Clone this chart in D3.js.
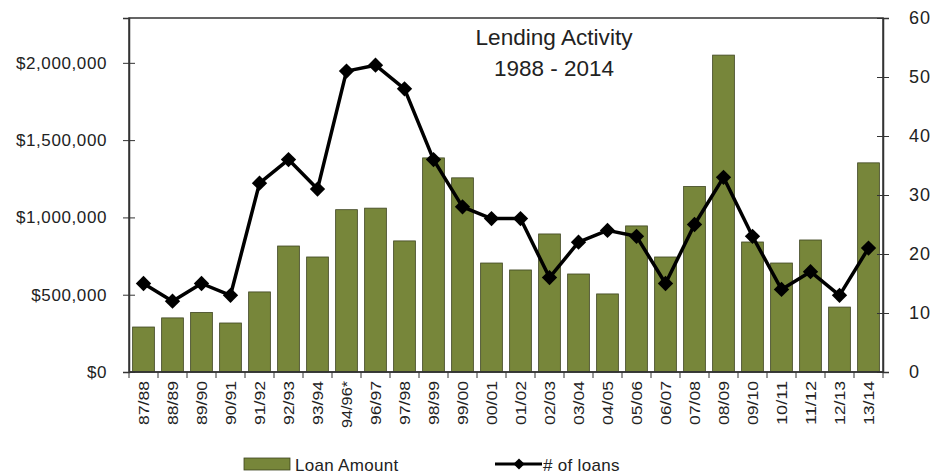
<!DOCTYPE html>
<html><head><meta charset="utf-8">
<script src="https://cdn.jsdelivr.net/npm/d3@7"></script>
<style>body{margin:0;background:#fff}svg{display:block}text{font-family:"Liberation Sans",Arial,sans-serif;fill:#222}</style>
</head><body><svg id="c" width="943" height="476"></svg>
<script>
const categories = ["87/88","88/89","89/90","90/91","91/92","92/93","93/94","94/96*","96/97","97/98","98/99","99/00","00/01","01/02","02/03","03/04","04/05","05/06","06/07","07/08","08/09","09/10","10/11","11/12","12/13","13/14"];
const loanAmount = [291000,350000,385000,317000,518000,815000,744000,1050000,1060000,848000,1385000,1256000,705000,660000,893000,634000,505000,945000,744000,1200000,2050000,841000,705000,854000,420000,1353000];
const numLoans = [15,12,15,13,32,36,31,51,52,48,36,28,26,26,16,22,24,23,15,25,33,23,14,17,13,21];
const leftTicks = [0,500000,1000000,1500000,2000000];
const rightTicks = [0,10,20,30,40,50,60];
const titleLines = ["Lending Activity","1988 - 2014"];
const legendLabels = ["Loan Amount","# of loans"];

const svg = d3.select("#c");
const L = 129, R = 883, T = 18, B = 372;
const x = d3.scaleBand().domain(categories).range([L, R]).paddingInner(0.25).paddingOuter(0.125);
const xb = d3.scaleBand().domain(categories).range([L, R]);
const yL = d3.scaleLinear().domain([0, 2290000]).range([B, T]);
const yR = d3.scaleLinear().domain([0, 60]).range([B, T]);
const barColor = "#77863a";

// bars
svg.append("g").selectAll("rect").data(categories).join("rect")
  .attr("x", d => x(d)).attr("width", x.bandwidth())
  .attr("y", (d,i) => yL(loanAmount[i])).attr("height", (d,i) => B - yL(loanAmount[i]))
  .attr("fill", barColor).attr("stroke", "#3d4420").attr("stroke-width", 0.8);

// frame
svg.append("rect").attr("x", L).attr("y", T).attr("width", R-L).attr("height", B-T)
  .attr("fill", "none").attr("stroke", "#333").attr("stroke-width", 1.5);

// left axis
const gl = svg.append("g").attr("transform", `translate(${L},0)`)
  .call(d3.axisLeft(yL).tickValues(leftTicks).tickSize(6).tickPadding(16)
    .tickFormat(d => "$" + d3.format(",")(d)));
gl.select(".domain").attr("stroke", "#333").attr("stroke-width", 1.5);
gl.selectAll(".tick line").attr("x2", 6).attr("x1", -6).attr("stroke", "#333");
gl.selectAll("text").style("font-size", "17px").style("letter-spacing", "0.6px").attr("fill", "#222");

// right axis
const gr = svg.append("g").attr("transform", `translate(${R},0)`)
  .call(d3.axisRight(yR).tickValues(rightTicks).tickSize(6).tickPadding(20));
gr.select(".domain").attr("stroke", "#333").attr("stroke-width", 1.5);
gr.selectAll(".tick line").attr("x1", -6).attr("x2", 6).attr("stroke", "#333");
gr.selectAll("text").style("font-size", "18px").style("letter-spacing", "1px").attr("fill", "#222");

// x axis ticks at boundaries
const bounds = categories.map(c => xb(c)).concat([R]);
svg.append("g").selectAll("line").data(bounds).join("line")
  .attr("x1", d => d).attr("x2", d => d).attr("y1", B).attr("y2", B + 6)
  .attr("stroke", "#333").attr("stroke-width", 1);
svg.append("line").attr("x1", L).attr("x2", R).attr("y1", B).attr("y2", B).attr("stroke", "#333").attr("stroke-width", 1.5);

// x labels rotated
svg.append("g").selectAll("text").data(categories).join("text")
  .attr("transform", d => `translate(${xb(d) + xb.bandwidth()/2 + 5.5},${B + 9}) rotate(-90)`)
  .attr("text-anchor", "end")
  .attr("textLength", d => d.length >= 6 ? 47 : 44).attr("lengthAdjust", "spacingAndGlyphs")
  .style("font-size", "15px").text(d => d);

// line
const line = d3.line().x((d,i) => xb(categories[i]) + xb.bandwidth()/2).y(d => yR(d));
svg.append("path").datum(numLoans).attr("d", line).attr("fill", "none")
  .attr("stroke", "#000").attr("stroke-width", 3.5).attr("stroke-linejoin", "round");
const diamond = d3.symbol().type(d3.symbolDiamond2).size(150);
svg.append("g").selectAll("path").data(numLoans).join("path")
  .attr("transform", (d,i) => `translate(${xb(categories[i]) + xb.bandwidth()/2},${yR(d)})`)
  .attr("d", diamond).attr("fill", "#000");

// title
svg.append("g").selectAll("text").data(titleLines).join("text")
  .attr("x", 554).attr("y", (d,i) => 45 + i*31).attr("text-anchor", "middle")
  .attr("textLength", (d,i) => i === 0 ? 157 : 120).attr("lengthAdjust", "spacingAndGlyphs")
  .style("font-size", "22px").text(d => d);

// legend
svg.append("rect").attr("x", 244).attr("y", 458).attr("width", 46).attr("height", 12)
  .attr("fill", barColor).attr("stroke", "#3d4420").attr("stroke-width", 0.8);
svg.append("text").attr("x", 295).attr("y", 471).style("font-size", "17px").style("letter-spacing", "0.3px").text(legendLabels[0]);
svg.append("line").attr("x1", 495).attr("x2", 542).attr("y1", 464).attr("y2", 464).attr("stroke", "#000").attr("stroke-width", 3);
svg.append("path").attr("transform", "translate(519,464)").attr("d", d3.symbol().type(d3.symbolDiamond2).size(80)).attr("fill", "#000");
svg.append("text").attr("x", 543).attr("y", 471).style("font-size", "17px").style("letter-spacing", "0.3px").text(legendLabels[1]);
</script></body></html>
